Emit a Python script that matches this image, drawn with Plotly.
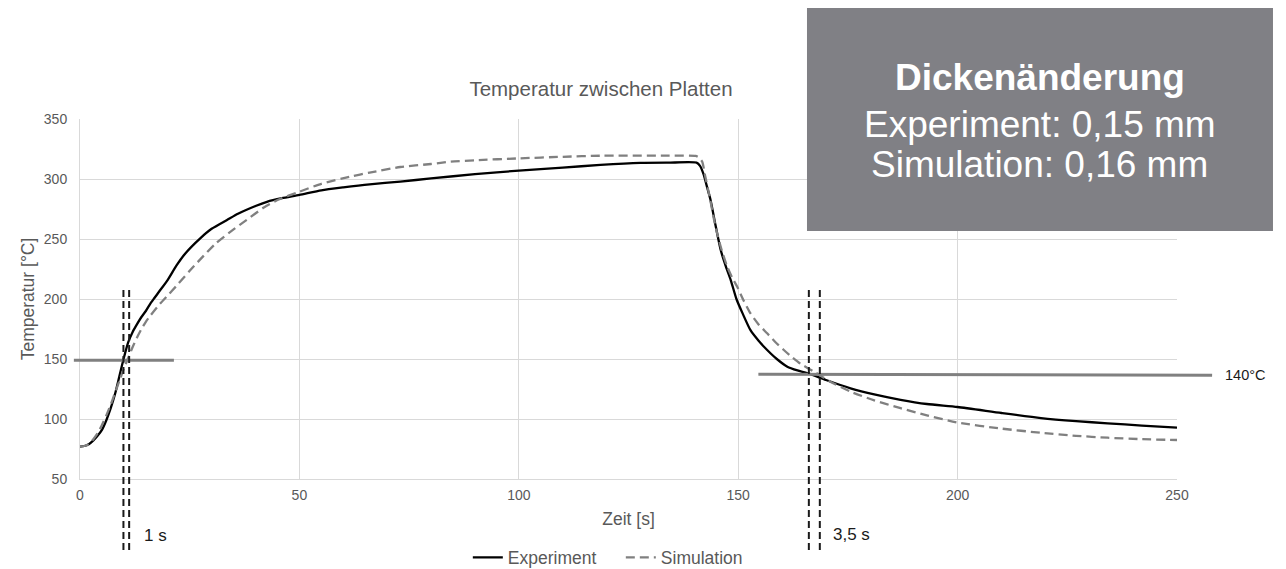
import plotly.graph_objects as go

# ---------------- data ----------------
exp_t = [0, 1, 2, 3, 4, 5, 6, 7, 8, 9, 10, 11, 12, 13, 14, 15, 16, 17, 18, 20, 22, 24, 27.4,
         30, 33.5, 36, 40, 42.6, 46, 50, 55, 60, 66, 73, 80, 90, 100, 110, 118.6, 127.7, 134,
         140.5, 141.3, 142.1, 143, 143.7, 144.8, 146, 147.2, 148.3, 149.6, 151, 152.8, 154.7,
         156.6, 158.8, 161.2, 163.5, 166, 170, 175.6, 181, 187, 193, 200, 210, 219, 227, 234.2,
         242, 250]
exp_T = [77, 77.5, 79, 82, 86, 91, 99, 109, 121, 136, 151, 164, 172.5, 179, 185, 190, 196, 201,
         206, 216, 228, 238, 250.6, 258.5, 265.8, 271, 277.5, 281, 284, 286.7, 290.5, 293, 295.6,
         297.8, 300.5, 304, 307, 309.5, 311.7, 313.4, 313.6, 313.6, 311, 304, 292, 282.5, 262,
         241, 227, 215.8, 200, 188, 174, 165, 157.5, 150, 143.6, 140.5, 138, 132.5, 125.6, 120.5,
         116, 112.5, 110, 105, 100.8, 98.2, 96.4, 94.5, 92.8]

sim_t = [0, 1, 2, 3, 4, 5, 6, 7, 8, 9, 10, 11, 12, 13, 14, 15, 16, 18, 20, 22, 25, 27.4, 31, 35,
         38, 41.8, 45, 50, 55, 61.6, 66, 73, 80, 84.4, 90, 100, 110, 118.6, 133.8, 140.3, 141,
         141.8, 142.5, 143.5, 144.5, 145.2, 146.3, 147.5, 148.6, 149.8, 151.2, 152.8, 154.6,
         156.6, 158.5, 160.4, 162.3, 164.2, 167.3, 171, 175.6, 181, 187, 193, 200, 210, 219, 227,
         234.2, 242, 250]
sim_T = [77, 77.5, 79, 83, 88, 95, 103, 112, 122, 132, 142, 151, 160, 168, 175, 181, 186, 195,
         203, 211, 223.5, 233, 246.5, 258, 266, 276, 282.5, 289.4, 296, 302, 305.3, 310, 312.5,
         314.4, 315.6, 317.2, 318.5, 319.4, 319.4, 319.2, 318, 314.4, 302, 285, 266, 254.7, 240,
         227, 218, 210, 199, 188, 179, 171.4, 164, 157.5, 151.5, 146, 139.4, 131, 122.8, 115.5,
         109, 103, 97, 92, 88.5, 86, 84.4, 83.2, 82.5]

x_ticks = [0, 50, 100, 150, 200, 250]
y_ticks = [50, 100, 150, 200, 250, 300, 350]

# reference lines (data units)
left_level = 149          # horizontal line at start
left_level_t = [-1.4, 21.4]
right_level = [137.3, 136.4]
right_level_t = [154.6, 258]
label_140 = "140°C"
label_140_t = 265.4
marks_left = [9.9, 11.2]
marks_right = [166.1, 168.6]
label_left = "1 s"
label_left_t = 17.1
label_right = "3,5 s"
label_right_t = 175.9

box_lines = ["<b>Dickenänderung</b>", "Experiment: 0,15 mm", "Simulation: 0,16 mm"]

X_MAX = 250
FONT = "Liberation Sans, Arial, sans-serif"
GRID = "#d9d9d9"
TXT = "#595959"

fig = go.Figure()
fig.add_trace(go.Scatter(x=exp_t, y=exp_T, mode="lines", name="Experiment",
                         line=dict(color="black", width=2.3, shape="spline", smoothing=0.6)))
fig.add_trace(go.Scatter(x=sim_t, y=sim_T, mode="lines", name="Simulation",
                         line=dict(color="#808080", width=2.3, dash="9px,5px",
                                   shape="spline", smoothing=0.6)))

shapes = []
# gray info box (paper coords)
shapes.append(dict(type="rect", xref="paper", yref="paper", x0=0.6627, x1=1.0875,
                   y0=0.689, y1=1.311, fillcolor="#808085", line=dict(width=0), layer="above"))
# horizontal level lines
shapes.append(dict(type="line", xref="paper", yref="y",
                   x0=left_level_t[0] / X_MAX, x1=left_level_t[1] / X_MAX,
                   y0=left_level, y1=left_level, line=dict(color="#808080", width=3)))
shapes.append(dict(type="line", xref="paper", yref="y",
                   x0=right_level_t[0] / X_MAX, x1=right_level_t[1] / X_MAX,
                   y0=right_level[0], y1=right_level[1], line=dict(color="#808080", width=3)))
# vertical dashed markers
for xv in marks_left + marks_right:
    shapes.append(dict(type="line", xref="x", yref="paper", x0=xv, x1=xv,
                       y0=-0.197, y1=0.525, line=dict(color="#1a1a1a", width=2, dash="7px,4px")))

annotations = []
box_y = [1.1139, 0.9861, 0.8736]
for txt, yy in zip(box_lines, box_y):
    annotations.append(dict(text=txt, xref="paper", yref="paper", x=0.875, y=yy,
                            xanchor="center", yanchor="middle", showarrow=False,
                            font=dict(family=FONT, size=37, color="white")))
annotations.append(dict(text=label_140, xref="paper", yref="y", x=label_140_t / X_MAX,
                        y=right_level[1], xanchor="center", yanchor="middle", showarrow=False,
                        font=dict(family=FONT, size=14.5, color="#1a1a1a")))
annotations.append(dict(text=label_left, xref="x", yref="paper", x=label_left_t, y=-0.158,
                        xanchor="center", yanchor="middle", showarrow=False,
                        font=dict(family=FONT, size=17, color="#1a1a1a")))
annotations.append(dict(text=label_right, xref="x", yref="paper", x=label_right_t, y=-0.155,
                        xanchor="center", yanchor="middle", showarrow=False,
                        font=dict(family=FONT, size=17, color="#1a1a1a")))

fig.update_layout(
    width=1286, height=569,
    margin=dict(l=72, r=117, t=111, b=98, autoexpand=False),
    paper_bgcolor="white", plot_bgcolor="white",
    font=dict(family=FONT, color=TXT),
    title=dict(text="Temperatur zwischen Platten", x=593 / 1286, xanchor="center",
               y=1 - 81 / 569, yanchor="middle", xref="container", yref="container",
               font=dict(family=FONT, size=20.5, color=TXT)),
    xaxis=dict(range=[0, X_MAX], tickvals=x_ticks, showgrid=True, gridcolor=GRID, gridwidth=1,
               zeroline=False, showline=True, linecolor=GRID, linewidth=1, ticks="",
               tickfont=dict(size=14, color=TXT), ticklabelstandoff=3,
               title=dict(text="Zeit [s]", font=dict(size=17.5, color=TXT), standoff=10)),
    yaxis=dict(range=[50, 350], tickvals=y_ticks, showgrid=True, gridcolor=GRID, gridwidth=1,
               zeroline=False, showline=True, linecolor=GRID, linewidth=1, ticks="",
               tickfont=dict(size=14, color=TXT), ticklabelstandoff=9,
               title=dict(text="Temperatur [°C]", font=dict(size=17.5, color=TXT), standoff=4)),
    legend=dict(orientation="h", x=0.493, xanchor="center", y=-0.218, yanchor="middle",
                font=dict(size=17.5, color=TXT), bgcolor="rgba(0,0,0,0)",
                entrywidth=108, entrywidthmode="pixels"),
    shapes=shapes,
    annotations=annotations,
)

fig.write_html("out.html")
